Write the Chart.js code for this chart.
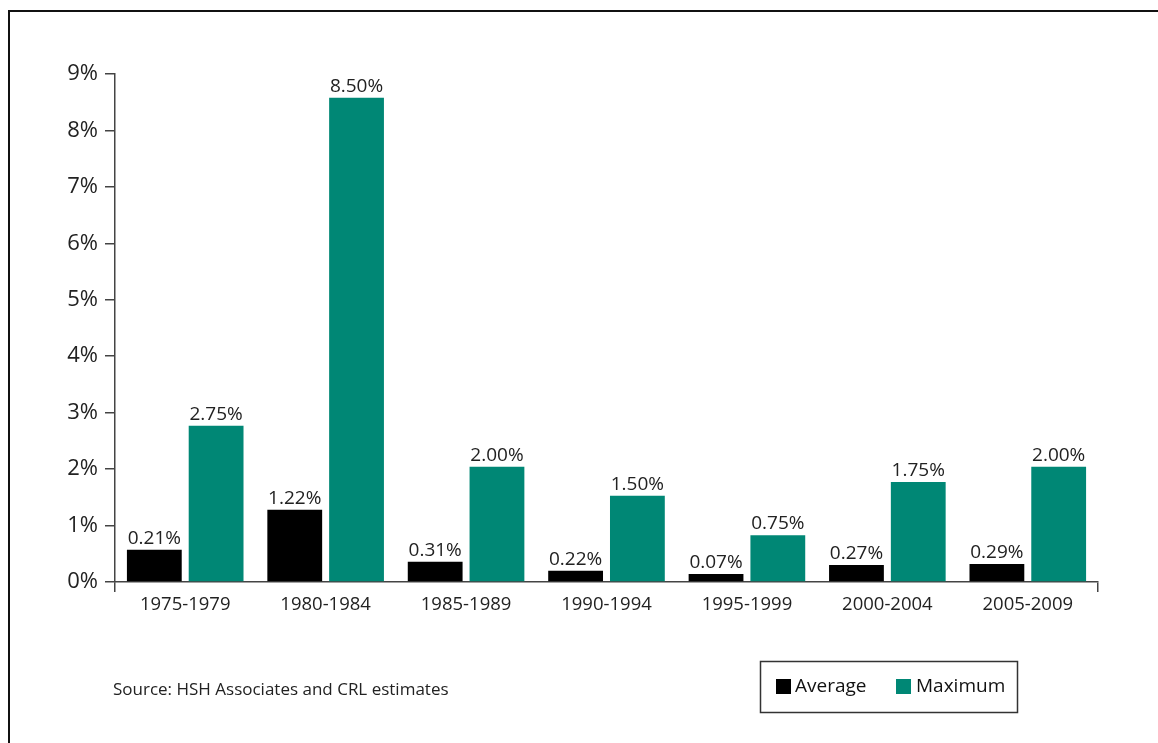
<!DOCTYPE html>
<html>
<head>
<meta charset="utf-8">
<script src="https://cdn.jsdelivr.net/npm/chart.js@4"></script>
<style>
  html, body { margin:0; padding:0; background:#fff; overflow:hidden; width:1158px; height:743px; }
  #frame { position:absolute; left:8px; top:10px; width:2000px; height:2000px; border-left:2px solid #111; border-top:2px solid #111; }
  #c { position:absolute; left:0; top:0; }
</style>
</head>
<body>
<div id="frame"></div>
<canvas id="c" width="1158" height="743"></canvas>
<script>
const categories = ['1975-1979','1980-1984','1985-1989','1990-1994','1995-1999','2000-2004','2005-2009'];
const averageValues = [0.57, 1.28, 0.36, 0.20, 0.14, 0.30, 0.32];
const maximumValues = [2.77, 8.58, 2.04, 1.53, 0.83, 1.77, 2.04];
const averageLabels = ['0.21%','1.22%','0.31%','0.22%','0.07%','0.27%','0.29%'];
const maximumLabels = ['2.75%','8.50%','2.00%','1.50%','0.75%','1.75%','2.00%'];
const yTicks = [0,1,2,3,4,5,6,7,8,9];
const sourceText = 'Source: HSH Associates and CRL estimates';

const FONT = "'Open Sans', 'DejaVu Sans', sans-serif";
const AXIS = '#444';

const barLabels = {
  id: 'barLabels',
  afterDatasetsDraw(chart) {
    const ctx = chart.ctx;
    ctx.save();
    ctx.font = '19px ' + FONT;
    ctx.fillStyle = '#222';
    ctx.textAlign = 'center';
    ctx.textBaseline = 'bottom';
    chart.data.datasets.forEach((ds, di) => {
      const meta = chart.getDatasetMeta(di);
      meta.data.forEach((bar, i) => {
        ctx.fillText(ds.valueLabels[i], bar.x, bar.y - 2);
      });
    });
    ctx.restore();
  }
};

const extras = {
  id: 'extras',
  afterDraw(chart) {
    const ctx = chart.ctx;
    ctx.save();
    ctx.font = '17px ' + FONT;
    ctx.fillStyle = '#222';
    ctx.textAlign = 'left';
    ctx.textBaseline = 'middle';
    ctx.fillText(sourceText, 113, 690);
    ctx.strokeStyle = '#333';
    ctx.lineWidth = 1.5;
    ctx.strokeRect(760.5, 661.5, 257, 51);
    const items = chart.data.datasets;
    const xs = [[776, 795], [896, 916]];
    ctx.font = '19px ' + FONT;
    items.forEach((ds, i) => {
      ctx.fillStyle = ds.backgroundColor;
      ctx.fillRect(xs[i][0], 679, 15, 15);
      ctx.fillStyle = '#111';
      ctx.fillText(ds.label, xs[i][1], 687);
    });
    ctx.restore();
  }
};

new Chart(document.getElementById('c'), {
  type: 'bar',
  data: {
    labels: categories,
    datasets: [
      { label: 'Average', data: averageValues, valueLabels: averageLabels, backgroundColor: '#000000',
        categoryPercentage: 0.88, barPercentage: 0.887 },
      { label: 'Maximum', data: maximumValues, valueLabels: maximumLabels, backgroundColor: '#008775',
        categoryPercentage: 0.88, barPercentage: 0.887 }
    ]
  },
  options: {
    responsive: false,
    animation: false,
    layout: { padding: { left: 0, right: 60, top: 74, bottom: 0 } },
    plugins: { legend: { display: false }, tooltip: { enabled: false } },
    scales: {
      x: {
        afterFit(s) { s.height = 161; },
        offset: true,
        grid: {
          offset: true,
          drawOnChartArea: false,
          drawTicks: true,
          tickLength: 10,
          lineWidth: 1.5,
          color: (c) => (c.type !== 'tick' || c.index === 0) ? AXIS : 'rgba(0,0,0,0)'
        },
        border: { display: true, color: AXIS, width: 1.5 },
        ticks: { font: { family: FONT, size: 18.5 }, color: '#222', padding: 2, maxRotation: 0 }
      },
      y: {
        afterFit(s) { s.width = 115; },
        min: 0, max: 9,
        afterBuildTicks(s) { s.ticks = yTicks.map(v => ({ value: v })); },
        grid: { drawOnChartArea: false, drawTicks: true, tickLength: 10, color: AXIS, lineWidth: 1.5 },
        border: { display: true, color: AXIS, width: 1.5 },
        ticks: { font: { family: FONT, size: 22 }, color: '#222', padding: 7, callback: (v) => v + '%' }
      }
    }
  },
  plugins: [barLabels, extras]
});
</script>
</body>
</html>
